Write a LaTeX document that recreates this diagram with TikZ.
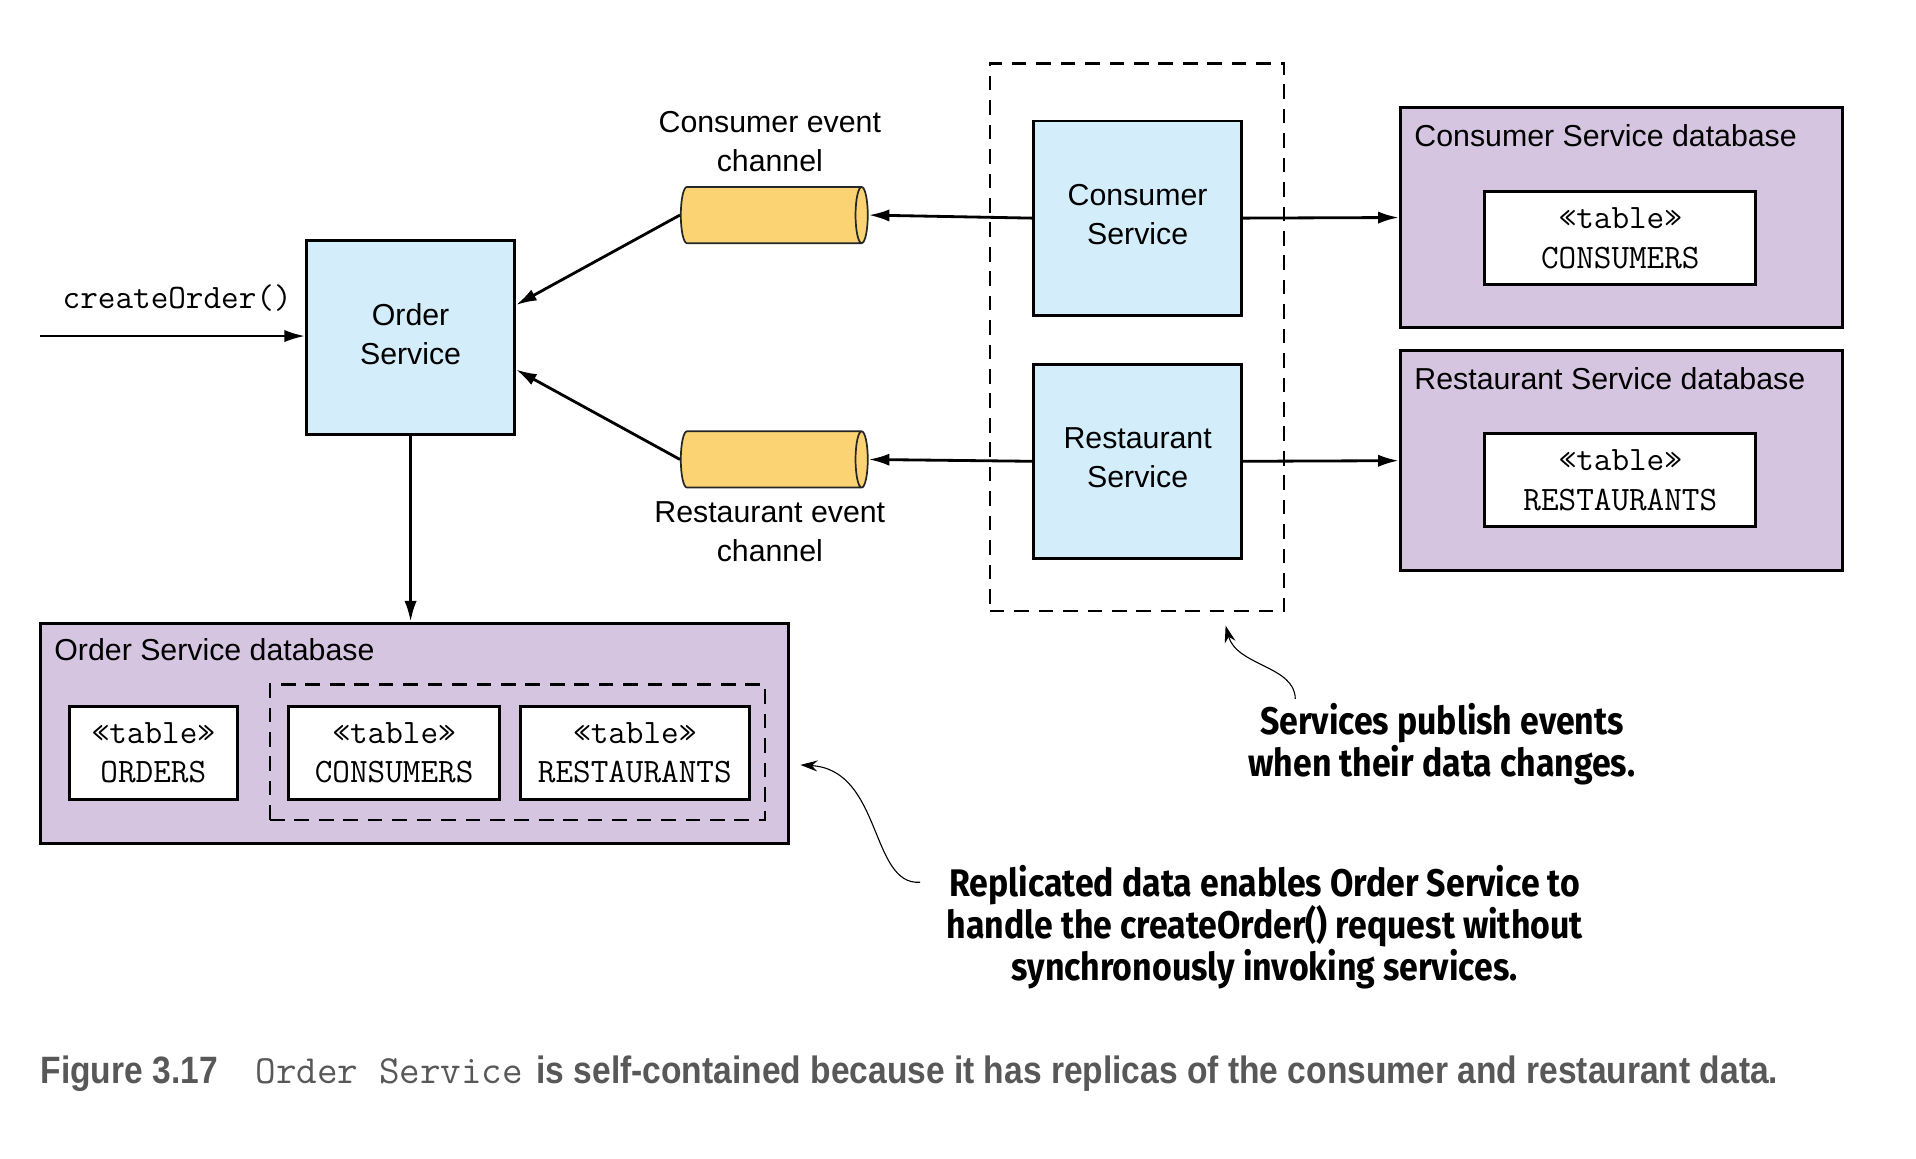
\documentclass[tikz,border=0pt]{standalone}
\usepackage{fontspec}
\setmainfont{Liberation Sans}
\newfontfamily\notefont[FakeStretch=0.88]{Fira Sans}
\newfontfamily\capfont[FakeStretch=0.88]{Liberation Sans}
\usetikzlibrary{arrows.meta,shapes.geometric,calc}

\definecolor{svcblue}{RGB}{211,237,251}
\definecolor{dbpurple}{RGB}{213,197,224}
\definecolor{chanyellow}{RGB}{251,211,115}
\definecolor{capgrey}{RGB}{88,88,88}

\tikzset{
	sansfont/.style={font=\fontsize{24.8}{32}\selectfont},
	svcbox/.style={draw, line width=2.4pt, fill=svcblue, minimum width=170pt, minimum height=159pt, text depth=6pt, align=center, sansfont},
	dbbox/.style={draw, line width=2.4pt, fill=dbpurple},
	tablebox/.style={draw, line width=2.4pt, fill=white, minimum height=76pt, align=center, font=\ttfamily\fontsize{28}{32.5}\selectfont},
	chan/.style={cylinder, draw=black!85, line width=1.4pt, fill=chanyellow, minimum width=46pt, minimum height=153pt, shape aspect=1.5},
	grouping/.style={draw, line width=2pt, dash pattern=on 12pt off 8pt},
	flow/.style={line width=2.3pt, -{Latex[length=17pt,width=10pt]}},
	callout/.style={line width=0.9pt, -{Stealth[length=14pt,width=9pt]}},
	notetext/.style={align=center, font=\notefont\bfseries\fontsize{31.5}{34.5}\selectfont}
}

\begin{document}
\begin{tikzpicture}[x=1pt,y=-1pt]
	%%%%% START %%%%%
	\useasboundingbox (0,0) rectangle (1568,948);
	
	\node[svcbox] (order) at (336,276) {Order\\Service};
	\node[font=\ttfamily\fontsize{28}{32}\selectfont] (call) at (145,244) {createOrder()};
	\coordinate (req) at (33,275);
	\draw[flow] (req) -- (req -| order.west);
	
	\node[chan] (cchan) at (629.5,176) {};
	\node[chan] (rchan) at (629.5,376) {};
	\node[align=center, sansfont] (cchanlbl) at (630,116) {Consumer event\\channel};
	\node[align=center, sansfont] (rchanlbl) at (630,435) {Restaurant event\\channel};
	\draw[flow] (cchan.west) -- (order.17);
	\draw[flow] (rchan.west) -- (order.-17);
	
	\node[grouping, minimum width=241pt, minimum height=448pt] (pub) at (930.5,276) {};
	\node[svcbox] (csvc) at (931,178.5) {Consumer\\Service};
	\node[svcbox] (rsvc) at (931,377.5) {Restaurant\\Service};
	\draw[flow] (csvc.west) -- (cchan.east);
	\draw[flow] (rsvc.west) -- (rchan.east);
	
	\node[dbbox, minimum width=362pt, minimum height=180pt] (cdb) at (1327,178) {};
	\node[anchor=west, sansfont] (cdblbl) at (1154,111) {Consumer Service database};
	\node[tablebox, minimum width=222pt] (ctab) at (1326,195) {«table»\\CONSUMERS};
	\node[dbbox, minimum width=362pt, minimum height=180pt] (rdb) at (1327,377) {};
	\node[anchor=west, sansfont] (rdblbl) at (1154,310) {Restaurant Service database};
	\node[tablebox, minimum width=222pt] (rtab) at (1326,393) {«table»\\RESTAURANTS};
	\draw[flow] (csvc.east) -- (cdb.west);
	\draw[flow] (rsvc.east) -- (rdb.west);
	
	\node[dbbox, minimum width=612pt, minimum height=180pt] (odb) at (339,600) {};
	\node[anchor=west, sansfont] (odblbl) at (41,532) {Order Service database};
	\node[grouping, minimum width=405pt, minimum height=111pt] (replica) at (423.5,615.5) {};
	\node[tablebox, minimum width=137pt] (otab) at (125.5,616) {«table»\\ORDERS};
	\node[tablebox, minimum width=173pt] (octab) at (322.5,616) {«table»\\CONSUMERS};
	\node[tablebox, minimum width=187pt] (ortab) at (519.5,616) {«table»\\RESTAURANTS};
	\draw[flow] (order.south) -- (order.south |- odb.north);
	
	\node[notetext] (pubnote) at (1180,609) {Services publish events\\when their data changes.};
	\node[notetext] (replnote) at (1035,759) {Replicated data enables Order Service to\\handle the createOrder() request without\\synchronously invoking services.};
	\coordinate (pubtail) at (1060,572);
	\coordinate (pubtip) at (1003,512);
	\coordinate (repltail) at (753,722);
	\coordinate (repltip) at (655,626);
	\draw[callout] (pubtail) .. controls (1060,545) and (1012,545) .. (pubtip);
	\draw[callout] (repltail) .. controls (712,725) and (722,630) .. (repltip);
	
	\node[anchor=base west, text=capgrey, inner sep=0pt] (caption) at (33,887) {{\capfont\bfseries\fontsize{31.2}{34}\selectfont Figure 3.17}\hspace{31pt}{\ttfamily\fontsize{32.7}{34}\selectfont Order Service}\hspace{11pt}{\capfont\bfseries\fontsize{31.2}{34}\selectfont is self-contained because it has replicas of the consumer and restaurant data.}};
	%%%%% END %%%%%
\end{tikzpicture}
\end{document}
